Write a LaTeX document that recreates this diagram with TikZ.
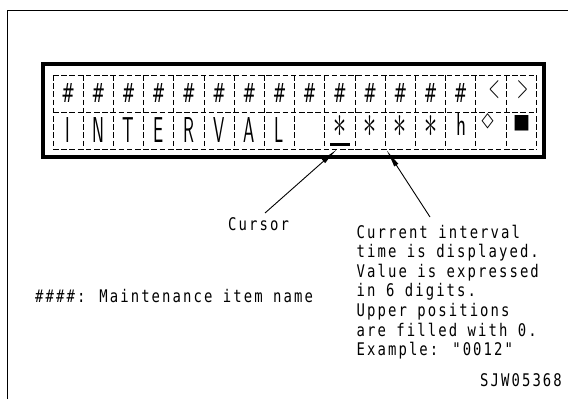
\documentclass[tikz,border=0pt]{standalone}
\usepackage{fontspec}
\usetikzlibrary{arrows.meta,calc}
\newfontfamily\labfont[FakeStretch=0.8,LetterSpace=12]{DejaVu Sans Mono}
\newfontfamily\symfont{DejaVu Sans}
\newcommand\dch[1]{\scalebox{0.5}[1]{\fontsize{36pt}{36pt}\selectfont\sffamily #1}}
\begin{document}
\begin{tikzpicture}[x=1pt,y=-1pt,
  gridline/.style={dash pattern=on 5.5pt off 2.7pt,line width=0.9pt},
  lab/.style={font=\labfont\fontsize{17.4pt}{19.6pt}\selectfont,inner sep=0pt,anchor=base west},
  dc/.style={inner sep=0pt,anchor=center},
  arr/.style={line width=0.9pt,-{Latex[length=18pt,width=5pt]}}]
\useasboundingbox (0,0) rectangle (578,399);
% outer open frame
\draw[line width=1.8pt] (7.5,399) -- (7.5,10.5) -- (568,10.5);
% display frame
\draw[line width=4.6pt] (43,64) rectangle (544,157);
% grid
\foreach \yy in {75,112,149} \draw[gridline] (53,\yy) -- (536.2,\yy);
\foreach \i in {0,...,16} \draw[gridline] ({53+30.2*\i},75) -- ({53+30.2*\i},149);
% top row
\foreach \i in {0,...,13} \node[dc] (t\i) at ({68.1+30.2*\i},92.5) {\resizebox{13.5pt}{19pt}{\symfont\#}};
\node[dc] (t14) at (494,89.5) {\resizebox{11pt}{17pt}{\sffamily <}};
\node[dc] (t15) at (522.5,89.5) {\resizebox{11pt}{17pt}{\sffamily >}};
% bottom row
\foreach \c [count=\i from 0] in {I,N,T,E,R,V,A,L}
  \node[dc] (b\i) at ({68.1+30.2*\i},130.5) {\dch{\c}};
\foreach \i in {9,...,12} \node[dc] (b\i) at ({68.1+30.2*\i},133) {\resizebox{13pt}{35pt}{\rmfamily *}};
\node[dc] (b13) at (461.2,124.5) {\resizebox{10pt}{22pt}{\sffamily h}};
\node[dc] (b14) at (487.5,121.5) {\resizebox{12pt}{13pt}{\symfont ◇}};
\node[dc] (b15) at (521.7,123.3) {\resizebox{17pt}{13pt}{\symfont ■}};
% cursor underline
\node[fill=black,minimum width=20pt,minimum height=2.7pt,inner sep=0pt] (cur) at (340,144.7) {};
% labels
\node[lab] (cursorlbl) at (228,230) {Cursor};
\node[lab] (desc) at (356.5,238) {\vtop{\baselineskip=19.6pt\hbox{Current interval}\hbox{time is displayed.}\hbox{Value is expressed}\hbox{in 6 digits.}\hbox{Upper positions}\hbox{are filled with 0.}\hbox{Example: "0012"}}};
\node[lab] (maint) at (35,302.5) {\#\#\#\#: Maintenance item name};
\node[lab] (code) at (480,386) {SJW05368};
% arrows
\coordinate (a1s) at (265,213);
\coordinate (a1e) at (337,149.3);
\coordinate (a2s) at (430,217);
\coordinate (a2e) at (386.5,150);
\draw[arr] (a1s) -- (a1e);
\draw[arr] (a2s) -- (a2e);
\end{tikzpicture}
\end{document}
